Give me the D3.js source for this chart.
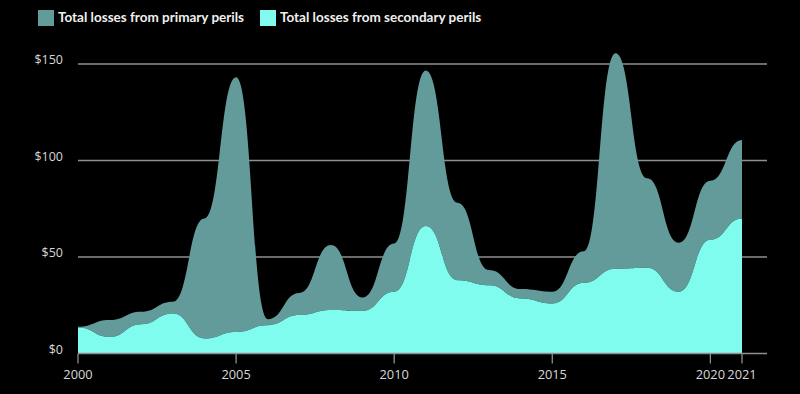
<!DOCTYPE html>
<html><head><meta charset="utf-8">
<script src="https://cdn.jsdelivr.net/npm/d3@7"></script>
<style>html,body{margin:0;padding:0;background:#000;}svg{display:block;}</style>
</head><body>
<svg id="chart" width="800" height="394"></svg>
<script>
const years = [2000,2001,2002,2003,2004,2005,2006,2007,2008,2009,2010,2011,2012,2013,2014,2015,2016,2017,2018,2019,2020,2021];
const secondary = [13.5,8.6,15.2,20.7,7.8,11.2,14.7,19.9,22.5,22.1,32,66,38,35.4,28.5,25.9,36.6,43.9,44.4,32,59,70];
const total = [13.8,17.3,21.6,26.8,70,143.1,17.8,31.4,56.2,29,57,146.6,78.1,43.2,33.4,32,53,155.6,90.8,57.4,89.5,110.6];
const primary = total.map((t,i)=> +(t - secondary[i]).toFixed(1));
const yTicks = [0,50,100,150];
const xTicks = [2000,2005,2010,2015,2020,2021];
const seriesNames = ["Total losses from primary perils","Total losses from secondary perils"];
const colors = {primary:"#639b9b", secondary:"#7ffcee"};

const svg = d3.select("#chart");
const x = d3.scaleLinear().domain([2000,2021]).range([78,742]);
const y = d3.scaleLinear().domain([0,150]).range([353.5,64]);
const axisRight = 767;

const rows = years.map((yr,i)=>({year:yr, secondary:secondary[i], primary:primary[i]}));
const stack = d3.stack().keys(["secondary","primary"]);
const layers = stack(rows);

// gridlines
svg.append("g").selectAll("line").data(yTicks.filter(d=>d>0)).join("line")
  .attr("x1",x(2000)).attr("x2",axisRight)
  .attr("y1",d=>y(d)).attr("y2",d=>y(d))
  .attr("stroke","#8f8f8f").attr("stroke-width",1.3);

const area = d3.area().curve(d3.curveBumpX)
  .x(d=>x(d.data.year)).y0(d=>y(d[0])).y1(d=>y(d[1]));

svg.append("path").datum(layers[1]).attr("d",area).attr("fill",colors.primary);
svg.append("path").datum(layers[0]).attr("d",area).attr("fill",colors.secondary);

// y labels
svg.append("g").selectAll("text").data(yTicks).join("text")
  .attr("x",63).attr("y",d=>y(d)-3).attr("text-anchor","end")
  .attr("dominant-baseline","middle")
  .attr("fill","#d8d8d8").attr("font-family","Open Sans, sans-serif").attr("font-size",12.5)
  .text(d=>"$"+d);

// x axis
const xa = svg.append("g");
xa.append("line").attr("x1",x(2000)).attr("x2",axisRight).attr("y1",y(0)).attr("y2",y(0))
  .attr("stroke","#8f8f8f").attr("stroke-width",1.3);
xa.selectAll("line.t").data(xTicks).join("line").attr("class","t")
  .attr("x1",d=>x(d)).attr("x2",d=>x(d)).attr("y1",y(0)).attr("y2",y(0)+10)
  .attr("stroke","#8f8f8f").attr("stroke-width",1.3);
xa.selectAll("text").data(xTicks).join("text")
  .attr("x",d=>x(d)).attr("y",375.5).attr("text-anchor","middle").attr("dominant-baseline","middle")
  .attr("fill","#d8d8d8").attr("font-family","Open Sans, sans-serif").attr("font-size",12.8)
  .text(d=>d);

// legend
const leg = svg.append("g");
const legItems = [{name:seriesNames[0],color:colors.primary,x:38},{name:seriesNames[1],color:colors.secondary,x:260}];
legItems.forEach(it=>{
  leg.append("rect").attr("x",it.x).attr("y",10).attr("width",16).attr("height",16).attr("fill",it.color);
  leg.append("text").attr("x",it.x+20).attr("y",18.5).attr("dominant-baseline","middle")
    .attr("fill","#f0f0f0").attr("font-family","Lato, sans-serif").attr("font-weight","bold")
    .attr("font-size",13.5).text(it.name);
});
</script>
</body></html>
